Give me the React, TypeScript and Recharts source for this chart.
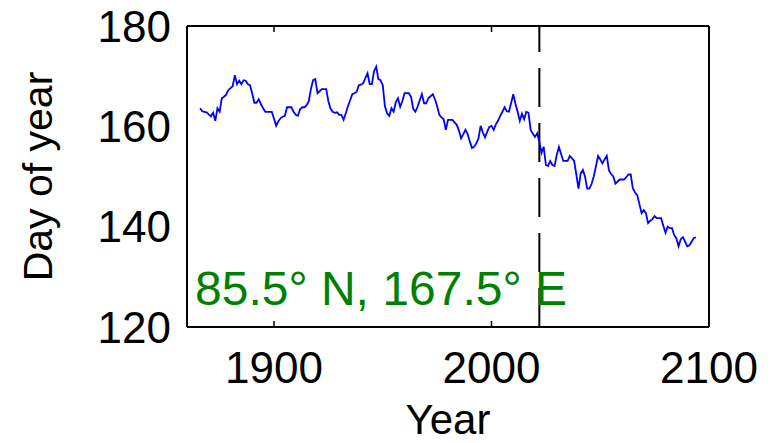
import { LineChart, Line, XAxis, YAxis, ReferenceLine } from 'recharts'

// day of year, yearly series
const startYear = 1866
const dayOfYear = [
  163.6, 163.0, 162.9, 162.8, 162.4, 162.0, 162.7, 161.1, 163.6, 162.9,
  165.6, 165.9, 166.3, 167.2, 167.6, 168.0, 170.2, 168.4, 169.1, 168.4,
  169.2, 169.1, 168.4, 168.2, 166.5, 164.7, 164.7, 165.4, 164.4, 163.6,
  162.9, 162.9, 162.9, 162.9, 161.5, 160.1, 161.0, 161.6, 161.9, 162.1,
  163.8, 163.8, 163.8, 162.9, 162.3, 162.1, 163.4, 163.8, 163.8, 164.2,
  165.0, 167.5, 169.2, 169.4, 166.6, 167.0, 167.4, 167.4, 167.4, 165.0,
  163.5, 162.9, 162.7, 162.8, 162.3, 162.3, 161.3, 162.6, 164.0, 165.2,
  166.4, 166.6, 166.9, 168.2, 168.3, 168.6, 169.6, 170.6, 168.4, 168.4,
  171.0, 171.9, 169.4, 169.2, 168.2, 164.0, 162.6, 162.1, 163.6, 162.9,
  164.8, 165.6, 163.9, 165.0, 166.6, 166.6, 166.6, 165.9, 163.5, 162.9,
  163.9, 165.2, 166.4, 164.6, 164.6, 165.6, 166.0, 166.4, 165.4, 164.0,
  162.3, 161.8, 161.4, 159.3, 161.3, 161.3, 161.3, 160.8, 160.3, 159.2,
  157.6, 158.4, 159.3, 158.5, 157.0, 155.7, 155.9, 156.6, 157.6, 160.1,
  158.8, 157.8, 158.9, 159.9, 160.1, 159.3, 160.4, 161.1, 162.1, 162.9,
  163.8, 163.0, 162.9, 164.6, 166.4, 164.5, 162.9, 161.1, 162.5, 161.4,
  162.9, 162.7, 159.3, 158.5, 157.9, 158.6, 156.9, 154.7, 155.9, 152.3,
  152.1, 153.1, 152.3, 152.1, 154.3, 155.9, 154.5, 153.1, 153.1, 153.1,
  154.1, 153.6, 153.1, 150.4, 147.6, 150.6, 151.3, 150.0, 147.6, 147.6,
  148.5, 150.0, 152.0, 154.1, 153.4, 152.6, 153.4, 154.1, 151.2, 150.5,
  150.0, 148.6, 149.0, 149.4, 149.4, 149.4, 149.9, 150.4, 150.4, 147.6,
  146.8, 146.3, 144.5, 142.7, 143.3, 142.7, 140.7, 141.2, 141.5, 142.1,
  141.7, 141.7, 141.7, 140.2, 138.8, 140.0, 139.7, 139.7, 138.3, 137.7,
  136.1, 137.5, 137.9, 137.0, 136.1, 136.3, 137.0, 137.7, 137.9,
]
const years = dayOfYear.map((_, i) => startYear + i)

const xTicks = [1900, 2000, 2100]
const yTicks = [120, 140, 160, 180]
const splitYear = 2022
const siteLabel = '85.5° N, 167.5° E'

const data = years.map((year, i) => ({ year, day: dayOfYear[i] }))

const FONT = '"Liberation Sans", Arial, Helvetica, sans-serif'
const tickStyle = { fontSize: 44, fill: '#000', fontFamily: FONT }
const inward = { stroke: '#000', strokeWidth: 1.5 }
const blank = () => ''

export default function App() {
  return (
    <div style={{ position: 'absolute', left: 0, top: 0, width: 771, height: 443, background: '#fff', overflow: 'hidden' }}>
      <LineChart width={771} height={443} data={data} margin={{ top: 26, right: 62, bottom: 0, left: 0 }}>
        <XAxis
          xAxisId="x"
          dataKey="year"
          type="number"
          domain={[1860, 2100]}
          ticks={xTicks}
          allowDataOverflow
          height={116}
          tickLine={false}
          tickSize={0}
          tickMargin={25}
          axisLine={{ stroke: '#000', strokeWidth: 2 }}
          tick={tickStyle}
          label={{ value: 'Year', position: 'insideBottom', offset: 9, style: { fontSize: 42, fill: '#000', fontFamily: FONT } }}
        />
        {/* inward ticks on bottom and top edges */}
        <XAxis xAxisId="xb" dataKey="year" type="number" domain={[1860, 2100]} ticks={xTicks} mirror
          axisLine={false} tickSize={6} tickLine={inward} tickFormatter={blank} />
        <XAxis xAxisId="xt" orientation="top" dataKey="year" type="number" domain={[1860, 2100]} ticks={xTicks} mirror
          axisLine={{ stroke: '#000', strokeWidth: 2 }} tickSize={6} tickLine={inward} tickFormatter={blank} />
        <YAxis
          yAxisId="y"
          type="number"
          domain={[120, 180]}
          ticks={yTicks}
          width={187}
          tickLine={false}
          tickSize={0}
          tickMargin={16}
          axisLine={{ stroke: '#000', strokeWidth: 2 }}
          tick={tickStyle}
          label={{
            content: ({ viewBox }: any) => {
              const cx = viewBox.x + 52
              const cy = viewBox.y + viewBox.height / 2
              return (
                <text x={cx} y={cy} transform={`rotate(-90, ${cx}, ${cy})`} textAnchor="middle"
                  style={{ fontSize: 41, fill: '#000', fontFamily: FONT }}>
                  Day of year
                </text>
              )
            },
          }}
        />
        {/* inward ticks on left and right edges */}
        <YAxis yAxisId="yl" type="number" domain={[120, 180]} ticks={yTicks} mirror
          axisLine={false} tickSize={6} tickLine={inward} tickFormatter={blank} />
        <YAxis yAxisId="yr" orientation="right" type="number" domain={[120, 180]} ticks={yTicks} mirror
          axisLine={{ stroke: '#000', strokeWidth: 2 }} tickSize={6} tickLine={inward} tickFormatter={blank} />
        <ReferenceLine xAxisId="x" yAxisId="y" x={splitYear} stroke="#000" strokeWidth={2} strokeDasharray="39 16" />
        <Line
          xAxisId="x"
          yAxisId="y"
          type="linear"
          dataKey="day"
          stroke="#0000ff"
          strokeWidth={1.8}
          dot={false}
          isAnimationActive={false}
        />
      </LineChart>
      <div style={{ position: 'absolute', left: 195, top: 265, fontSize: 48, color: '#008000', fontFamily: FONT, whiteSpace: 'nowrap', lineHeight: '48px' }}>
        {siteLabel}
      </div>
    </div>
  )
}
